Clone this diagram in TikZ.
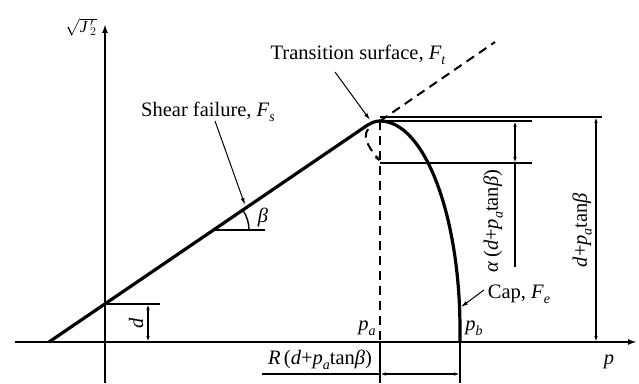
\documentclass[tikz,border=0pt]{standalone}
\usepackage{fontspec}
\setmainfont{Liberation Serif}
\usetikzlibrary{arrows.meta}
\newcommand{\isub}[1]{\raisebox{-0.5ex}{\fontsize{14}{14}\selectfont\itshape #1}}
\begin{document}
\begin{tikzpicture}[x=1pt,y=1pt,
  lbl/.style={font=\fontsize{20.5}{24}\selectfont, inner sep=0pt},
  axisline/.style={line width=1.8pt, -{Latex[length=9pt,width=6pt]}},
  capline/.style={line width=3.2pt},
  thinline/.style={line width=1.4pt},
  leader/.style={line width=1pt, -{Latex[length=7pt,width=4pt]}},
  dimline/.style={line width=1.3pt, {Latex[length=6pt,width=3.5pt]}-{Latex[length=6pt,width=3.5pt]}},
  dashline/.style={line width=2pt, dash pattern=on 9pt off 6pt}]
\useasboundingbox (0,0) rectangle (639,383);
% coordinates
\coordinate (xs) at (15,41); \coordinate (xe) at (637,41);
\coordinate (ys) at (105,0); \coordinate (ye) at (105,359);
\coordinate (S0) at (49,41);
\coordinate (F1) at (364,255.5);
\coordinate (A) at (380,262);
\coordinate (Pa) at (380,41);
\coordinate (Pb) at (460,41);
\coordinate (Ext) at (495,341);
\coordinate (D) at (105,79); \coordinate (De) at (160,79);
\coordinate (Dt) at (148,79); \coordinate (Db) at (148,41);
\coordinate (Bs) at (214,153); \coordinate (Be) at (265,153); \coordinate (Ba) at (249,153);
\coordinate (H1s) at (380,266); \coordinate (H1e) at (602,266);
\coordinate (H2s) at (383,262); \coordinate (H2e) at (532,262);
\coordinate (H3s) at (380,220); \coordinate (H3e) at (532,220);
\coordinate (Al1) at (515,262); \coordinate (Al2) at (515,220); \coordinate (Al3) at (515,116);
\coordinate (Dp1) at (596,266); \coordinate (Dp2) at (596,41);
\coordinate (Ul) at (262,9); \coordinate (U1) at (380,9); \coordinate (U2) at (460,9);
\coordinate (Ea) at (380,0); \coordinate (Eb) at (460,0);
\coordinate (Lts) at (335,311); \coordinate (Tts) at (370,263);
\coordinate (Lsf) at (215,262); \coordinate (Tsf) at (245,178);
\coordinate (Lcap) at (484,93); \coordinate (Tcap) at (461,76);
\coordinate (Dc1) at (368,254); \coordinate (Dc2) at (380,221);
% axes
\draw[axisline] (xs) -- (xe);
\draw[axisline] (ys) -- (ye);
% dashed lines
\draw[dashline] (A) -- (Ext);
\draw[dashline] (A) -- (Pa);
\draw[dashline, -{Latex[length=6pt,width=4pt]}] (Dc1) .. controls (361,244) and (373,231) .. (Dc2);
% shear line and cap
\draw[capline, line join=round] (S0) -- (F1) .. controls (371,260.3) and (375,262) .. (A)
  arc[start angle=90, end angle=0, x radius=80, y radius=209] -- (Pb);
% d dimension
\draw[thinline] (D) -- (De);
\draw[dimline] (Dt) -- (Db);
\node[lbl, rotate=90] (dl) at (136,60) {\textit{d}};
% beta
\draw[thinline] (Bs) -- (Be);
\draw[thinline] (Ba) arc[start angle=0, end angle=34, radius=35];
\node[lbl] (bl) at (263,166) {\textit{β}};
% right dimension lines
\draw[thinline] (H1s) -- (H1e);
\draw[thinline] (H2s) -- (H2e);
\draw[thinline] (H3s) -- (H3e);
\draw[dimline] (Al1) -- (Al2);
\draw[thinline] (Al2) -- (Al3);
\draw[dimline] (Dp1) -- (Dp2);
\node[lbl, rotate=90] (al) at (493,162) {\textit{α}\,(\textit{d}+\textit{p}\isub{a}tan\textit{β})};
\node[lbl, rotate=90] (dpl) at (582,153) {\textit{d}+\textit{p}\isub{a}tan\textit{β}};
% bottom dimension
\draw[thinline] (Pa) -- (Ea);
\draw[thinline] (Pb) -- (Eb);
\draw[thinline] (Ul) -- (U1);
\draw[dimline] (U1) -- (U2);
\node[lbl] (rl) at (320,23) {\textit{R}\,(\textit{d}+\textit{p}\isub{a}tan\textit{β})};
% labels
\node[lbl] (ts) at (358,328) {Transition surface, \textit{F}\isub{t}};
\draw[leader] (Lts) -- (Tts);
\node[lbl] (sf) at (208,271) {Shear failure, \textit{F}\isub{s}};
\draw[leader] (Lsf) -- (Tsf);
\node[lbl] (cap) at (519,89) {Cap, \textit{F}\isub{e}};
\draw[leader] (Lcap) -- (Tcap);
\node[lbl] (pa) at (367,55) {\textit{p}\isub{a}};
\node[lbl] (pb) at (474,55) {\textit{p}\isub{b}};
\node[lbl] (pl) at (609,21) {\textit{p}};
\node[font=\fontsize{17}{19}\selectfont, inner sep=0pt] (jl) at (81,356) {$\sqrt{\textit{J}\,'_{2}}$};
\end{tikzpicture}
\end{document}
